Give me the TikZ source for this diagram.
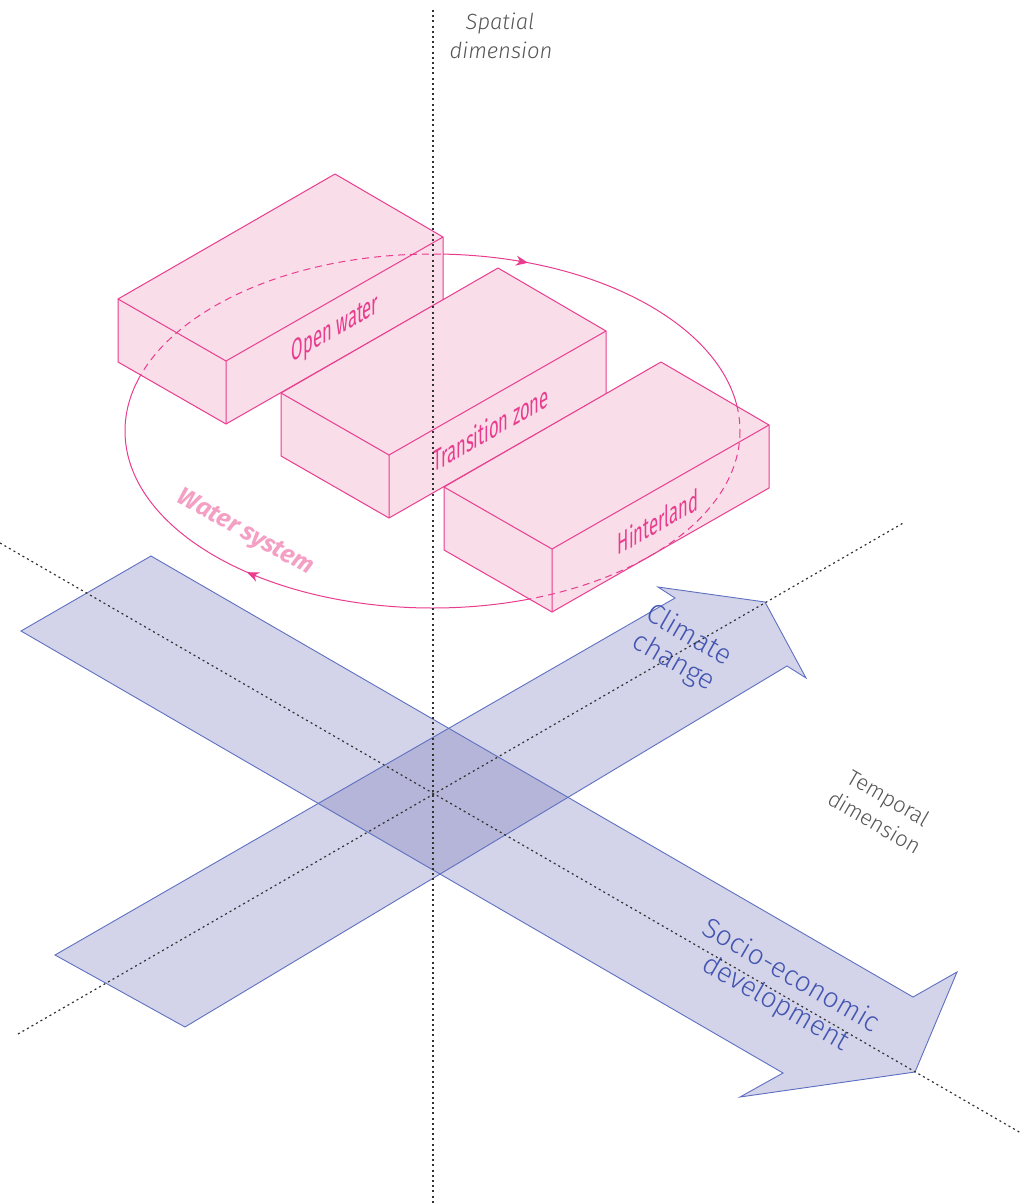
\documentclass[tikz,border=0pt]{standalone}
\usepackage{fontspec}
\setmainfont{Fira Sans}
\newfontfamily\lightsans{Fira Sans Light}[ItalicFont={Fira Sans Light Italic}]
\usetikzlibrary{arrows.meta}
\definecolor{pinkline}{RGB}{233,60,142}
\definecolor{pinkfill}{RGB}{249,221,233}
\definecolor{pinktext}{RGB}{244,160,196}
\definecolor{bandfill}{RGB}{211,212,234}
\definecolor{bandover}{RGB}{180,181,216}
\definecolor{bandline}{RGB}{95,112,192}
\definecolor{bandtext}{RGB}{67,85,176}
\definecolor{axiscol}{RGB}{50,50,50}
\definecolor{graytext}{RGB}{85,85,85}
\begin{document}
\begin{tikzpicture}[x=1pt,y=-1pt,
  axis/.style={draw=axiscol,line width=1.2pt,dash pattern=on 2pt off 3.2pt},
  bandedge/.style={draw=bandline,line width=0.9pt,line join=miter},
  boxface/.style={fill=pinkfill,draw=pinkline,line width=1pt,line join=round},
  boxedge/.style={draw=pinkline,line width=1pt,line join=round},
  ring/.style={draw=pinkline,line width=1pt},
  ringtip/.style={draw=pinkline,line width=1pt,-{Stealth[length=12pt,width=10pt]}},
  boxlabel/.style={text=pinkline,font=\fontsize{30}{34}\selectfont,inner sep=0pt,cm={0.555,0.32,0,1,(0,0)}},
  arrowlabel/.style={text=bandtext,font=\lightsans\fontsize{28}{31}\selectfont,align=center,rotate=-30,inner sep=0pt},
  dimlabel/.style={text=graytext,font=\lightsans\fontsize{22}{28}\selectfont,inner sep=0pt},
]
\useasboundingbox (0,0) rectangle (1021,1204);

% ---------- blue bands ----------
\coordinate (s1) at (151,556);
\coordinate (s2) at (913,997);
\coordinate (s3) at (957,972);
\coordinate (s4) at (915,1072);
\coordinate (s5) at (740,1097);
\coordinate (s6) at (783,1073);
\coordinate (s7) at (21,631);
\coordinate (c1) at (55,955);
\coordinate (c2) at (675,598);
\coordinate (c3) at (658,587);
\coordinate (c4) at (765,602);
\coordinate (c5) at (806,678);
\coordinate (c6) at (787,666);
\coordinate (c7) at (185,1027);

\fill[bandfill] (s1)--(s2)--(s3)--(s4)--(s5)--(s6)--(s7)--cycle;
\fill[bandfill] (c1)--(c2)--(c3)--(c4)--(c5)--(c6)--(c7)--cycle;
\begin{scope}
  \clip (s1)--(s2)--(s3)--(s4)--(s5)--(s6)--(s7)--cycle;
  \fill[bandover] (c1)--(c2)--(c3)--(c4)--(c5)--(c6)--(c7)--cycle;
\end{scope}
\draw[bandedge] (s1)--(s2)--(s3)--(s4)--(s5)--(s6)--(s7)--cycle;
\draw[bandedge] (c1)--(c2)--(c3)--(c4)--(c5)--(c6)--(c7)--cycle;

% ---------- water system ring (solid) ----------
\coordinate (ec) at (432.5,431);
\draw[ring] (ec) ellipse [x radius=307.5, y radius=177];

% ---------- boxes ----------
\foreach \n/\bx/\by in {1/335/174, 2/498/268, 3/661/362}{
  \coordinate (b\n) at (\bx,\by);
  \coordinate (l\n) at (\bx-217,\by+125);
  \coordinate (lb\n) at (\bx-217,\by+188);
  \coordinate (f\n) at (\bx-109,\by+187);
  \coordinate (fb\n) at (\bx-109,\by+250);
  \coordinate (r\n) at (\bx+108,\by+63);
  \coordinate (rb\n) at (\bx+108,\by+126);
  \filldraw[boxface] (b\n)--(l\n)--(lb\n)--(fb\n)--(rb\n)--(r\n)--cycle;
  \draw[boxedge] (l\n)--(f\n)--(r\n) (f\n)--(fb\n);
}

% ---------- ring, dashed part behind the boxes ----------
\begin{scope}
  \clip (b1)--(l1)--(lb1)--(fb1)--(rb1)--(r1)--cycle
        (b2)--(l2)--(lb2)--(fb2)--(rb2)--(r2)--cycle
        (b3)--(l3)--(lb3)--(fb3)--(rb3)--(r3)--cycle;
  \draw[ring,dash pattern=on 7pt off 5pt] (ec) ellipse [x radius=307.5, y radius=177];
\end{scope}

% ring arrow heads
\coordinate (ta0) at (518.2,261.0);
\coordinate (ta1) at (528,262.8);
\coordinate (la0) at (256.2,576.2);
\coordinate (la1) at (247,572.2);
\draw[ringtip] (ta0) -- (ta1);
\draw[ringtip] (la0) -- (la1);

% ---------- labels ----------
\node[boxlabel] (ow) at (335,330) {Open water};
\node[boxlabel] (tz) at (491,428) {Transition zone};
\node[boxlabel] (hl) at (658,521) {Hinterland};

\node[rotate=-29,text=pinktext,font=\bfseries\itshape\fontsize{25}{28}\selectfont,inner sep=0pt] (ws) at (245,533) {Water system};

\node[arrowlabel] (cc) at (681,649) {Climate\\change};
\node[arrowlabel] (se) at (783,990) {Socio-economic\\development};

\node[dimlabel,font=\lightsans\itshape\fontsize{22}{28}\selectfont,anchor=base] (sp1) at (500,30) {Spatial};
\node[dimlabel,font=\lightsans\itshape\fontsize{22}{28}\selectfont,anchor=base] (sp2) at (501,59) {dimension};
\node[dimlabel,rotate=-30,align=center] (td) at (882,810) {Temporal\\dimension};

% ---------- dotted axes ----------
\coordinate (v0) at (433,10);
\coordinate (v1) at (433,1204);
\coordinate (p0) at (18,1034);
\coordinate (p1) at (905,522);
\coordinate (q0) at (0,543);
\coordinate (q1) at (1021,1133);
\draw[axis] (v0) -- (v1);
\draw[axis] (p0) -- (p1);
\draw[axis] (q0) -- (q1);
\end{tikzpicture}
\end{document}
